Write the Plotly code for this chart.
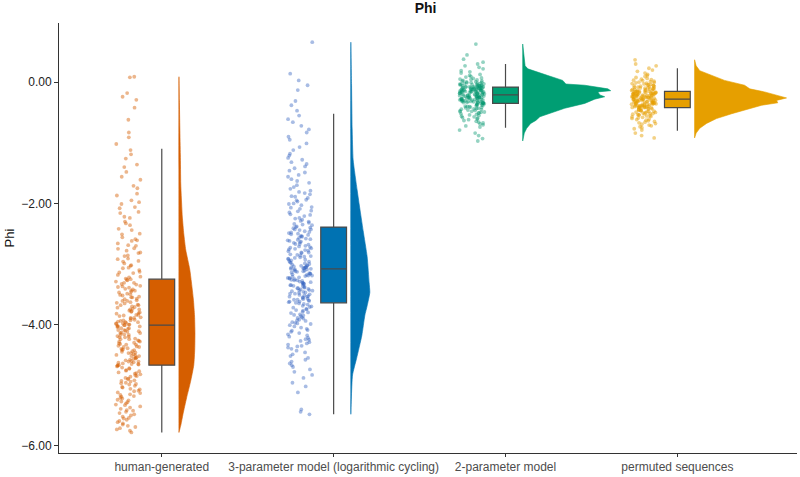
import math
import plotly.graph_objects as go

# ---------------- data ----------------
categories = ["human-generated", "3-parameter model (logarithmic cycling)",
              "2-parameter model", "permuted sequences"]
colors = ["#D55E00", "#0072B2", "#009E73", "#E69F00"]
point_colors = ["rgba(213,94,0,0.45)", "rgba(47,95,190,0.42)",
                "rgba(0,150,110,0.42)", "rgba(230,159,0,0.48)"]

# box statistics
box_q1 = [-4.67, -3.64, -0.35, -0.42]
box_median = [-4.01, -3.08, -0.21, -0.28]
box_q3 = [-3.25, -2.39, -0.08, -0.15]
box_lower = [-5.78, -5.48, -0.75, -0.80]
box_upper = [-1.10, -0.52, 0.30, 0.23]

# raw observations (estimated)
human_pts = [
    0.09, 0.08, -0.18, -0.24, -0.29, -0.42, -0.62, -0.83, -0.91, -1.02,
    -1.12, -1.19, -1.26, -1.36, -1.40, -1.48, -1.56, -1.61, -1.71, -1.75, -1.84, -1.87, -1.95, -1.98,
    -2.01, -2.06, -2.08, -2.14, -2.16, -2.22, -2.24, -2.30, -2.33, -2.36, -2.42, -2.44, -2.50, -2.51, -2.56, -2.59,
    -2.61, -2.62, -2.66, -2.69, -2.70, -2.74, -2.75, -2.78, -2.81, -2.82, -2.86, -2.87, -2.91, -2.92, -2.95,
    -2.96, -2.99, -3.02, -3.03, -3.06, -3.07, -3.10, -3.13, -3.14, -3.15, -3.18, -3.21, -3.22, -3.24, -3.25,
    -3.26, -3.27, -3.29, -3.31, -3.31, -3.33, -3.34, -3.36, -3.37, -3.38,
    -3.39, -3.41, -3.42, -3.44, -3.44, -3.46, -3.47, -3.49, -3.50, -3.51,
    -3.52, -3.54, -3.55, -3.55, -3.57, -3.58, -3.60, -3.61, -3.61, -3.63,
    -3.64, -3.65, -3.67, -3.68, -3.68, -3.70, -3.71, -3.72, -3.74, -3.75,
    -3.75, -3.77, -3.78, -3.79, -3.80, -3.81, -3.82, -3.84, -3.84, -3.85,
    -3.86, -3.88, -3.89, -3.89, -3.90, -3.92, -3.93, -3.93, -3.94, -3.95,
    -3.96, -3.96, -3.97, -3.98, -3.98, -3.99, -4.00, -4.00, -4.01, -4.01,
    -4.02, -4.03, -4.03, -4.04, -4.06, -4.06, -4.07, -4.09, -4.09, -4.10,
    -4.11, -4.12, -4.13, -4.14, -4.14, -4.16, -4.17, -4.17, -4.19, -4.20,
    -4.21, -4.21, -4.23, -4.24, -4.24, -4.26, -4.27, -4.28, -4.28, -4.30,
    -4.31, -4.32, -4.33, -4.33, -4.35, -4.36, -4.37, -4.37, -4.39, -4.40,
    -4.41, -4.42, -4.42, -4.44, -4.45, -4.46, -4.47, -4.47, -4.49, -4.50,
    -4.51, -4.52, -4.52, -4.54, -4.55, -4.56, -4.56, -4.58, -4.59, -4.60,
    -4.61, -4.61, -4.62, -4.63, -4.64, -4.65, -4.65, -4.66, -4.67, -4.67,
    -4.68, -4.69, -4.71, -4.72, -4.73, -4.75, -4.76, -4.77, -4.79, -4.80,
    -4.81, -4.82, -4.84, -4.85, -4.86, -4.88, -4.89, -4.90, -4.92, -4.93,
    -4.94, -4.96, -4.97, -4.98, -4.99,
    -5.01, -5.03, -5.04, -5.06, -5.07, -5.09, -5.10, -5.12, -5.13, -5.15,
    -5.16, -5.18, -5.19, -5.21, -5.22, -5.24, -5.25, -5.27, -5.28, -5.30,
    -5.32, -5.33, -5.35, -5.37, -5.39, -5.41, -5.42, -5.44, -5.46, -5.48, -5.50, -5.52, -5.54, -5.55, -5.57, -5.59,
    -5.61, -5.63, -5.65, -5.67, -5.69, -5.71, -5.73, -5.75, -5.78,
]
three_param_pts = [
    0.66, 0.14, 0.03, -0.05, -0.13, -0.31, -0.38, -0.47,
    -0.55, -0.61, -0.66, -0.72, -0.78, -0.83, -0.90, -0.95, -1.01, -1.07, -1.12, -1.18,
    -1.21, -1.25, -1.28, -1.32, -1.35, -1.39, -1.42, -1.46, -1.49, -1.53, -1.56, -1.60, -1.63, -1.66, -1.70, -1.73, -1.76, -1.79,
    -1.81, -1.83, -1.85, -1.88, -1.89, -1.91, -1.94, -1.95, -1.97, -2.00, -2.01, -2.03, -2.06, -2.07, -2.09, -2.12,
    -2.13, -2.15, -2.18, -2.19, -2.21, -2.24, -2.25, -2.27, -2.29, -2.30, -2.32, -2.34, -2.35, -2.36, -2.38, -2.39,
    -2.40, -2.41, -2.43, -2.43, -2.44, -2.46, -2.47, -2.48, -2.49, -2.50,
    -2.51, -2.52, -2.54, -2.54, -2.55, -2.57, -2.58, -2.59, -2.60, -2.61,
    -2.62, -2.63, -2.64, -2.65, -2.67, -2.67, -2.68, -2.70, -2.71, -2.72,
    -2.73, -2.74, -2.75, -2.76, -2.77, -2.78, -2.79, -2.81, -2.81, -2.82,
    -2.84, -2.85, -2.86, -2.87, -2.88, -2.89, -2.90, -2.91, -2.92, -2.93,
    -2.94, -2.95, -2.96, -2.97, -2.98, -2.99, -3.00, -3.01, -3.02, -3.03,
    -3.03, -3.04, -3.05, -3.05, -3.06, -3.06, -3.07, -3.07, -3.08, -3.08,
    -3.09, -3.09, -3.10, -3.11, -3.12, -3.12, -3.13, -3.14, -3.15, -3.16,
    -3.16, -3.17, -3.18, -3.19, -3.19, -3.20, -3.21, -3.22, -3.23, -3.23,
    -3.24, -3.25, -3.26, -3.27, -3.27, -3.28, -3.29, -3.30, -3.31, -3.31,
    -3.32, -3.33, -3.34, -3.35, -3.35, -3.36, -3.37, -3.38, -3.39, -3.40,
    -3.40, -3.41, -3.42, -3.43, -3.44, -3.44, -3.45, -3.46, -3.47, -3.48,
    -3.49, -3.49, -3.50, -3.51, -3.52, -3.53, -3.54, -3.54, -3.55, -3.56,
    -3.57, -3.58, -3.59, -3.59, -3.60, -3.61, -3.62, -3.62, -3.63, -3.64,
    -3.65, -3.66, -3.67, -3.69, -3.70, -3.71, -3.72, -3.74, -3.75, -3.76,
    -3.77, -3.79, -3.80, -3.81, -3.83, -3.84, -3.85, -3.86, -3.88, -3.89,
    -3.90, -3.92, -3.93, -3.94, -3.96, -3.97, -3.98, -3.99,
    -4.01, -4.03, -4.05, -4.07, -4.09, -4.10, -4.12, -4.14, -4.16, -4.18, -4.20,
    -4.22, -4.24, -4.25, -4.27, -4.29, -4.31, -4.33, -4.35, -4.36, -4.38, -4.40,
    -4.43, -4.46, -4.49, -4.52, -4.55, -4.58, -4.61, -4.64, -4.67, -4.70, -4.74, -4.78,
    -4.83, -4.88, -4.96, -5.02, -5.12, -5.40, -5.44, -5.48,
]
two_param_pts = [
    0.63, 0.45, 0.38, 0.33, 0.30, 0.27, 0.245, 0.22, 0.19, 0.172, 0.151, 0.128, 0.112,
    0.097, 0.084, 0.071, 0.063, 0.052, 0.046, 0.037, 0.031, 0.022, 0.017,
    0.009, 0.004, -0.002, -0.006, -0.011, -0.015, -0.019, -0.024, -0.027, -0.031,
    -0.034, -0.038, -0.041, -0.045, -0.048, -0.051, -0.055, -0.058, -0.061, -0.064,
    -0.066, -0.069, -0.072, -0.074, -0.077, -0.079, -0.080,
    -0.082, -0.085, -0.087, -0.090, -0.093, -0.095, -0.097, -0.100, -0.103, -0.104,
    -0.107, -0.110, -0.112, -0.114, -0.117, -0.119, -0.122, -0.124, -0.126, -0.128,
    -0.131, -0.133, -0.136, -0.138, -0.140, -0.143, -0.145, -0.147, -0.150, -0.152,
    -0.155, -0.157, -0.160, -0.162, -0.165, -0.168, -0.170, -0.173, -0.175, -0.178,
    -0.181, -0.184, -0.187, -0.189, -0.192, -0.195, -0.198, -0.202, -0.205, -0.209,
    -0.212, -0.215, -0.218, -0.221, -0.223, -0.226, -0.229, -0.231, -0.234, -0.236,
    -0.239, -0.241, -0.244, -0.246, -0.249, -0.251, -0.254, -0.257, -0.259, -0.262,
    -0.265, -0.268, -0.270, -0.273, -0.276, -0.279, -0.282, -0.285, -0.288, -0.291,
    -0.294, -0.297, -0.300, -0.303, -0.306, -0.309, -0.312, -0.315, -0.318, -0.321,
    -0.324, -0.327, -0.330, -0.333, -0.336, -0.339, -0.342, -0.345, -0.347, -0.350,
    -0.355, -0.361, -0.366, -0.372, -0.377, -0.383, -0.388, -0.394, -0.399, -0.405,
    -0.411, -0.416, -0.422, -0.428, -0.434, -0.440, -0.446, -0.452, -0.459, -0.466,
    -0.473, -0.480, -0.486, -0.492, -0.497, -0.503,
    -0.512, -0.521, -0.530, -0.540, -0.551, -0.561, -0.572, -0.583, -0.595, -0.607,
    -0.619, -0.632, -0.645, -0.659, -0.673, -0.688, -0.704, -0.721, -0.740,
    -0.79, -0.84, -0.88, -0.93, -0.97,
]
permuted_pts = [
    0.37, 0.30, 0.27, 0.23, 0.20, 0.18, 0.15, 0.13, 0.11, 0.094, 0.078, 0.063,
    0.05, 0.041, 0.033, 0.024, 0.016, 0.009, 0.002, -0.005, -0.011, -0.017,
    -0.023, -0.029, -0.035, -0.040, -0.046, -0.051, -0.056, -0.061, -0.066, -0.071,
    -0.076, -0.081, -0.086, -0.091, -0.095, -0.100, -0.104, -0.108, -0.112, -0.116,
    -0.120, -0.124, -0.128, -0.132, -0.136, -0.140, -0.144, -0.148,
    -0.152, -0.155, -0.157, -0.160, -0.162, -0.165, -0.167, -0.170, -0.172, -0.175,
    -0.177, -0.180, -0.182, -0.185, -0.187, -0.190, -0.192, -0.195, -0.197, -0.200,
    -0.203, -0.205, -0.208, -0.210, -0.213, -0.215, -0.218, -0.220, -0.223, -0.225,
    -0.228, -0.231, -0.233, -0.236, -0.238, -0.241, -0.244, -0.246, -0.249, -0.251,
    -0.254, -0.257, -0.259, -0.262, -0.265, -0.268, -0.271, -0.274, -0.277, -0.280,
    -0.283, -0.286, -0.289, -0.292, -0.295, -0.298, -0.301, -0.303, -0.306, -0.309,
    -0.312, -0.314, -0.317, -0.320, -0.322, -0.325, -0.328, -0.331, -0.333, -0.336,
    -0.339, -0.342, -0.345, -0.348, -0.350, -0.353, -0.356, -0.359, -0.362, -0.365,
    -0.368, -0.371, -0.374, -0.377, -0.380, -0.383, -0.386, -0.389, -0.392, -0.395,
    -0.398, -0.401, -0.404, -0.407, -0.410, -0.412, -0.414, -0.416, -0.418, -0.420,
    -0.425, -0.430, -0.435, -0.440, -0.444, -0.449, -0.453, -0.458, -0.463, -0.468,
    -0.473, -0.478, -0.483, -0.488, -0.493, -0.498, -0.503, -0.508, -0.513, -0.518,
    -0.523, -0.528, -0.533, -0.538, -0.543, -0.548,
    -0.556, -0.564, -0.572, -0.580, -0.589, -0.598, -0.607, -0.617, -0.627, -0.637,
    -0.648, -0.659, -0.670, -0.682, -0.694, -0.707, -0.720, -0.735, -0.750, -0.768, -0.790,
    -0.84, -0.88, -0.92,
]
points = [human_pts, three_param_pts, two_param_pts, permuted_pts]

# half-violin density profiles (y level, density)
human_vy = [0.09, -0.30, -0.76, -1.20, -1.68, -2.23, -2.50, -2.77, -3.09, -3.58, -3.86,
            -4.13, -4.40, -4.67, -4.94, -5.21, -5.48, -5.65, -5.78]
human_vd = [0.0, 0.010, 0.022, 0.035, 0.045, 0.085, 0.12, 0.17, 0.27, 0.36, 0.39,
            0.40, 0.395, 0.37, 0.29, 0.19, 0.10, 0.05, 0.0]
three_vy = [0.66, -0.05, -0.76, -1.28, -1.78, -2.01, -2.45, -2.88, -3.31, -3.47, -3.69,
            -3.85, -4.18, -4.56, -4.83, -5.21, -5.48]
three_vd = [0.0, 0.018, 0.033, 0.058, 0.158, 0.208, 0.308, 0.408, 0.458, 0.475, 0.408,
            0.35, 0.275, 0.143, 0.043, 0.013, 0.0]
two_vy = [0.63, 0.38, 0.27, 0.22, 0.16, 0.11, 0.03, -0.03, -0.05, -0.11, -0.14, -0.16,
          -0.21, -0.24, -0.28, -0.35, -0.43, -0.52, -0.57, -0.63, -0.68, -0.76, -0.84, -0.97]
two_vd = [0.0, 0.03, 0.06, 0.13, 0.38, 0.63, 1.0, 1.08, 1.55, 2.13, 2.2, 1.88,
          1.93, 2.05, 1.8, 1.55, 1.05, 0.63, 0.43, 0.33, 0.2, 0.1, 0.04, 0.0]
perm_vy = [0.37, 0.27, 0.19, 0.11, 0.03, -0.05, -0.11, -0.16, -0.22, -0.26, -0.30,
           -0.34, -0.38, -0.44, -0.52, -0.60, -0.68, -0.76, -0.84, -0.92]
perm_vd = [0.0, 0.04, 0.13, 0.42, 0.75, 1.25, 1.38, 1.75, 2.08, 2.3, 2.05,
           2.08, 1.68, 1.33, 0.93, 0.55, 0.3, 0.13, 0.04, 0.0]
violin_y = [human_vy, three_vy, two_vy, perm_vy]
violin_d = [human_vd, three_vd, two_vd, perm_vd]

# ---------------- drawing ----------------
POINT_OFFSET = -0.195
POINT_SPREAD = 0.145
VIOLIN_OFFSET = 0.10
VIOLIN_SCALE = 0.2327
BOX_WIDTH = 0.15


def jitter(i):
    # deterministic hash-based horizontal jitter in [-0.5, 0.5)
    v = math.sin((i + 1) * 12.9898 + 78.233) * 43758.5453
    return (v - math.floor(v)) - 0.5


fig = go.Figure()
for k, name in enumerate(categories):
    pos = k + 1
    ys = points[k]
    xs = [pos + POINT_OFFSET + jitter(i + 1000 * k) * POINT_SPREAD for i in range(len(ys))]
    fig.add_trace(go.Scatter(x=xs, y=ys, mode="markers",
                             marker=dict(size=3.8, color=point_colors[k], line=dict(width=0)),
                             showlegend=False, hoverinfo="y"))

    vy = violin_y[k]
    vd = violin_d[k]
    base = pos + VIOLIN_OFFSET
    px = [base + d * VIOLIN_SCALE for d in vd]
    fig.add_trace(go.Scatter(x=px + [base, base], y=list(vy) + [vy[-1], vy[0]],
                             mode="lines", fill="toself", fillcolor=colors[k],
                             line=dict(width=0.6, color=colors[k],
                                       shape="spline" if k < 2 else "linear",
                                       smoothing=0.5),
                             showlegend=False, hoverinfo="skip"))

    fig.add_trace(go.Box(x=[pos], q1=[box_q1[k]], median=[box_median[k]], q3=[box_q3[k]],
                         lowerfence=[box_lower[k]], upperfence=[box_upper[k]],
                         width=BOX_WIDTH, whiskerwidth=0, fillcolor=colors[k],
                         line=dict(color="#4a4a4a", width=1.2),
                         boxpoints=False, showlegend=False, name=name))

fig.update_layout(
    width=800, height=477,
    margin=dict(l=59, r=3, t=23, b=18),
    plot_bgcolor="white", paper_bgcolor="white",
    font=dict(family="Liberation Sans, Arial, sans-serif", color="#222"),
    title=dict(text="<b>Phi</b>", x=0.532, xanchor="center", y=0.982, yanchor="middle",
               font=dict(size=14, color="#111")),
    showlegend=False,
    xaxis=dict(range=[0.402, 4.696], tickmode="array", tickvals=[1, 2, 3, 4],
               ticktext=categories, showline=True, linecolor="#333", linewidth=1,
               ticks="outside", ticklen=3, tickcolor="#333", showgrid=False, zeroline=False,
               tickfont=dict(size=12, color="#4d4d4d")),
    yaxis=dict(range=[-6.119, 0.977], tick0=0, dtick=2, tickformat=".2f",
               showline=True, linecolor="#333", linewidth=1, ticks="outside", ticklen=4,
               tickcolor="#333", showgrid=False, zeroline=False,
               tickfont=dict(size=12, color="#222"),
               title=dict(text="Phi", font=dict(size=13, color="#111"), standoff=3)),
)

fig.write_html("out.html")
